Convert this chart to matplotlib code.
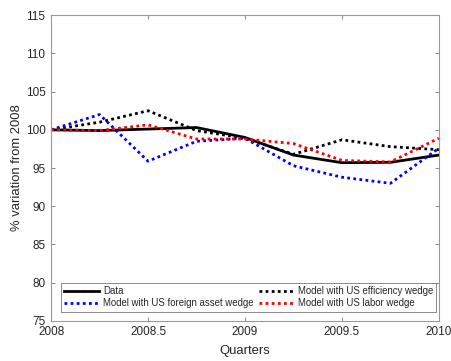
import matplotlib.pyplot as plt
import numpy as np

plt.rcParams['font.family'] = ['Liberation Sans', 'DejaVu Sans']

quarters = [2008, 2008.25, 2008.5, 2008.75, 2009, 2009.25, 2009.5, 2009.75, 2010]

data = [100.0, 99.9, 100.1, 100.3, 99.0, 96.7, 95.7, 95.75, 96.7]
efficiency = [100.0, 101.0, 102.5, 99.9, 98.9, 96.8, 98.7, 97.8, 97.4]
foreign_asset = [100.0, 102.0, 95.9, 98.5, 98.9, 95.3, 93.8, 93.0, 97.6]
labor = [100.0, 99.9, 100.65, 98.8, 98.8, 98.2, 96.0, 95.8, 98.9]

fig = plt.figure(figsize=(4.52, 3.61), dpi=100)
ax = fig.add_axes([0.113, 0.111, 0.858, 0.847])

edge = '#262626'
dots = (0, (1, 1.2))
h1, = ax.plot(quarters, data, color='k', lw=2, label='Data')
h2, = ax.plot(quarters, efficiency, color='k', lw=2, ls=dots, label='Model with US efficiency wedge')
h3, = ax.plot(quarters, foreign_asset, color='b', lw=2, ls=dots, label='Model with US foreign asset wedge')
h4, = ax.plot(quarters, labor, color='r', lw=2, ls=dots, label='Model with US labor wedge')

ax.set_xlim(2008, 2010)
ax.set_ylim(75, 115)
ax.set_xticks([2008, 2008.5, 2009, 2009.5, 2010])
ax.set_xticklabels(['2008', '2008.5', '2009', '2009.5', '2010'])
ax.set_yticks(np.arange(75, 116, 5))
ax.tick_params(direction='in', top=True, right=True, length=3, width=0.6,
               colors='#777777', labelsize=8.5, labelcolor=edge, pad=4)
for s in ax.spines.values():
    s.set_color('#999999')
    s.set_linewidth(0.8)

ax.set_xlabel('Quarters', fontsize=9.4, color=edge, labelpad=5)
ax.set_ylabel('% variation from 2008', fontsize=9.4, color=edge, labelpad=2)

leg = ax.legend(handles=[h1, h3, h2, h4], ncol=2, loc='lower left',
                bbox_to_anchor=(0.0245, 0.03), fontsize=6.9, frameon=True,
                fancybox=False, handlelength=3.7, borderpad=0.35, labelspacing=0.25,
                handletextpad=0.4, columnspacing=0.5, borderaxespad=0)
leg.get_frame().set_edgecolor('#555555')
leg.get_frame().set_linewidth(0.6)
for t in leg.get_texts():
    t.set_color(edge)

fig.savefig('out.png', dpi=100)
